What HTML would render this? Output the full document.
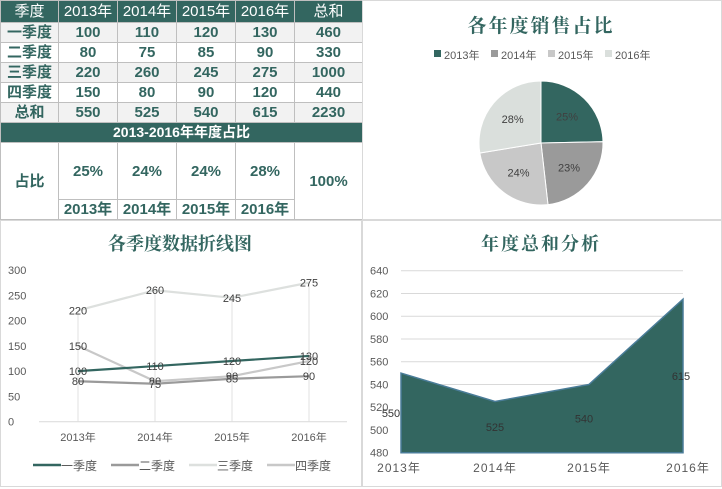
<!DOCTYPE html>
<html><head><meta charset="utf-8">
<style>
body{margin:0;width:722px;height:489px;background:#fff;font-family:"Liberation Sans","Noto Sans CJK SC",sans-serif;overflow:hidden;position:relative}
table{position:absolute;left:0;top:0;border-collapse:collapse;width:362px;table-layout:fixed}
td{border:1px solid #bfbfbf;text-align:center;color:#336660;font-weight:bold;font-size:15px;padding:0;height:19px;line-height:19px}
tr.h td{background:#336660;color:#fff;font-weight:normal;height:21px;font-size:15px}
tr.g td{background:#f2f2f2}
tr.bar td{background:#336660;color:#fff;font-size:14px}
svg{position:absolute;left:0;top:0}
</style></head><body>
<table>
<colgroup><col style="width:58px"><col style="width:59px"><col style="width:59px"><col style="width:59px"><col style="width:59px"><col style="width:68px"></colgroup>
<tr class="h"><td>季度</td><td>2013年</td><td>2014年</td><td>2015年</td><td>2016年</td><td>总和</td></tr>
<tr class="g"><td>一季度</td><td>100</td><td>110</td><td>120</td><td>130</td><td>460</td></tr>
<tr><td>二季度</td><td>80</td><td>75</td><td>85</td><td>90</td><td>330</td></tr>
<tr class="g"><td>三季度</td><td>220</td><td>260</td><td>245</td><td>275</td><td>1000</td></tr>
<tr><td>四季度</td><td>150</td><td>80</td><td>90</td><td>120</td><td>440</td></tr>
<tr class="g"><td>总和</td><td>550</td><td>525</td><td>540</td><td>615</td><td>2230</td></tr>
<tr class="bar"><td colspan="6">2013-2016年年度占比</td></tr>
<tr><td rowspan="2" style="height:56px">占比</td><td style="height:56px">25%</td><td>24%</td><td>24%</td><td>28%</td><td rowspan="2">100%</td></tr>
<tr><td>2013年</td><td>2014年</td><td>2015年</td><td>2016年</td></tr>
</table>
<svg id="s" width="722" height="489">
<rect x="362.5" y="0.5" width="359" height="219" fill="none" stroke="#d9d9d9"/>
<rect x="0.5" y="220.5" width="361" height="266" fill="none" stroke="#d9d9d9"/>
<rect x="362.5" y="220.5" width="359" height="266" fill="none" stroke="#d9d9d9"/>
<text x="541" y="32" text-anchor="middle" font-size="19" font-weight="bold" fill="#336660" font-family="Liberation Serif,Noto Serif CJK SC,serif" letter-spacing="2">各年度销售占比</text>
<text x="180" y="250" text-anchor="middle" font-size="18" font-weight="bold" fill="#336660" font-family="Liberation Serif,Noto Serif CJK SC,serif">各季度数据折线图</text>
<text x="541" y="250" text-anchor="middle" font-size="18" font-weight="bold" fill="#336660" font-family="Liberation Serif,Noto Serif CJK SC,serif" letter-spacing="2">年度总和分析</text>
<g id="pie"></g><g id="line"></g><g id="area"></g>
</svg>
<script>
const years=['2013年','2014年','2015年','2016年'];
const totals=[550,525,540,615];
const pieLabels=['25%','23%','24%','28%'];
const q1=[100,110,120,130];
const q2=[80,75,85,90];
const q3=[220,260,245,275];
const q4=[150,80,90,120];
const seriesNames=['一季度','二季度','三季度','四季度'];
const lineTicks=[0,50,100,150,200,250,300];
const areaTicks=[480,500,520,540,560,580,600,620,640];
const NS='http://www.w3.org/2000/svg';
function mk(p,t,a,txt){const e=document.createElementNS(NS,t);for(const k in a)e.setAttribute(k,a[k]);if(txt!==undefined)e.textContent=txt;p.appendChild(e);return e;}
const txtC='#595959';
// PIE
const pie=document.getElementById('pie');
const pcol=['#336660','#9a9a9a','#c8c8c8','#dadfdc'];
const cx=541,cy=143,r=62;
years.forEach((y,i)=>{const lx=[434,491,548,605][i];
const sq=mk(pie,'rect',{x:434+i*57,y:50,width:7,height:7,fill:pcol[i]});

const t=mk(pie,'text',{x:444+i*57,y:59,'font-size':11,fill:txtC},y);
});
const sum=totals.reduce((a,b)=>a+b,0);let ang=0;
totals.forEach((v,i)=>{const a0=ang,a1=ang+v/sum*2*Math.PI;ang=a1;
const x0=cx+r*Math.sin(a0),y0=cy-r*Math.cos(a0),x1=cx+r*Math.sin(a1),y1=cy-r*Math.cos(a1);
const p=mk(pie,'path',{d:`M${cx},${cy}L${x0},${y0}A${r},${r} 0 ${a1-a0>Math.PI?1:0} 1 ${x1},${y1}Z`,fill:pcol[i],stroke:'#fff','stroke-width':1});

const am=(a0+a1)/2;const t=mk(pie,'text',{x:cx+r*0.6*Math.sin(am),y:cy-r*0.6*Math.cos(am)+4,'text-anchor':'middle','font-size':11,fill:'#404040'},pieLabels[i]);
});
// LINE
const lg=document.getElementById('line');
const lx=i=>78+i*77, ly=v=>421.7-v*(151.7/300);
lineTicks.forEach(v=>{const t=mk(lg,'text',{x:8,y:ly(v)+4,'font-size':11,fill:txtC},v);});
mk(lg,'line',{x1:39,x2:347,y1:ly(0),y2:ly(0),stroke:'#d9d9d9'});
years.forEach((y,i)=>{mk(lg,'line',{x1:lx(i),x2:lx(i),y1:ly(Math.max(q1[i],q2[i],q3[i],q4[i])),y2:ly(0),stroke:'#e0e0e0'});
const t=mk(lg,'text',{x:lx(i),y:441,'text-anchor':'middle','font-size':11,fill:txtC},y);});
const lcol=['#336660','#9a9a9a','#dde0de','#c8c8c8'];
const order=[2,3,1,0];const sers=[q1,q2,q3,q4];
order.forEach(si=>{const s=sers[si];
const pl=mk(lg,'polyline',{points:s.map((v,i)=>lx(i)+','+ly(v)).join(' '),fill:'none',stroke:lcol[si],'stroke-width':2.2});

s.forEach((v,i)=>{const t=mk(lg,'text',{x:lx(i),y:ly(v)+4,'text-anchor':'middle','font-size':11,fill:'#404040'},v);});});
seriesNames.forEach((n,i)=>{const x0=33+i*78;
mk(lg,'line',{x1:x0,x2:x0+28,y1:465,y2:465,stroke:lcol[i],'stroke-width':2.5});
const t=mk(lg,'text',{x:x0+28,y:470,'font-size':12,fill:txtC},n);});
// AREA
const ag=document.getElementById('area');
const ax=i=>401+i*94, ay=v=>452.7-(v-480)*(182/160);
areaTicks.forEach(v=>{if(v>480)mk(ag,'line',{x1:401,x2:683,y1:ay(v),y2:ay(v),stroke:'#d9d9d9'});
const t=mk(ag,'text',{x:370,y:ay(v)+4,'font-size':11,fill:txtC},v);});
const ap=mk(ag,'path',{d:'M'+ax(0)+','+ay(480)+totals.map((v,i)=>'L'+ax(i)+','+ay(v)).join('')+'L'+ax(3)+','+ay(480)+'Z',fill:'#336660',stroke:'#4a7c98','stroke-width':1.5});

totals.forEach((v,i)=>{const t=mk(ag,'text',{x:ax(i)+[-10,0,-5,-2][i],y:ay((v+480)/2)+4,'text-anchor':'middle','font-size':11,fill:'#333'},v);
const u=mk(ag,'text',{x:ax(i)+[-2,0,0,5][i],y:472,'text-anchor':'middle','font-size':12,fill:txtC,'letter-spacing':1},years[i]);});
</script>
</body></html>
